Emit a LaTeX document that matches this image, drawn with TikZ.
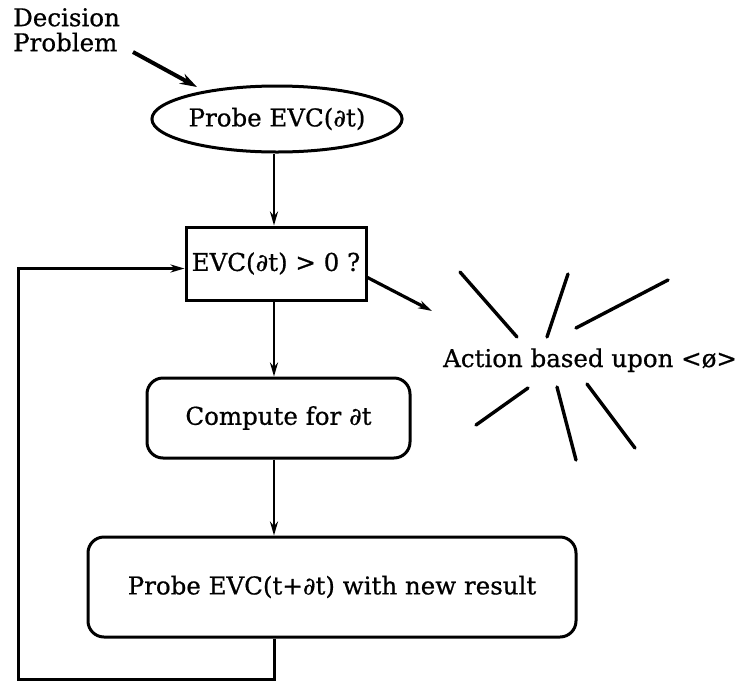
\documentclass[tikz,border=0pt]{standalone}
\usepackage{fontspec}
\setmainfont{DejaVu Serif}[FakeBold=0.7]
\usetikzlibrary{shapes.geometric,arrows.meta}
\begin{document}
\begin{tikzpicture}[x=1pt,y=-1pt,
  lbl/.style={font=\fontsize{24.5}{25}\selectfont},
  oval/.style={ellipse,draw,line width=3pt,minimum width=225pt,minimum height=66pt,inner sep=0pt,lbl},
  testbox/.style={rectangle,draw,line width=3pt,minimum width=180pt,minimum height=73pt,inner sep=0pt,lbl},
  stepbox/.style={rectangle,rounded corners=16pt,draw,line width=3pt,inner sep=0pt,lbl},
  flow/.style={line width=2.4pt,-{Stealth[length=14pt,width=8pt]}},
  ray/.style={line width=3.4pt,line cap=round}
]
\useasboundingbox (0,0) rectangle (740,681);
\coordinate (spine) at (274,0);

\node[lbl,anchor=north west,align=left,inner sep=0pt] (dp) at (13,8) {Decision\\Problem};
\node[oval] (e) at (277,119) {Probe EVC(∂t)};
\node[testbox] (d) at (276,263.5) {EVC(∂t) > 0 ?};
\node[stepbox,minimum width=263pt,minimum height=80pt] (c) at (278.5,418) {Compute for ∂t};
\node[stepbox,minimum width=488pt,minimum height=100pt] (p) at (332,587) {Probe EVC(t+∂t) with new result};
\node[lbl,anchor=base west,inner sep=0pt] (act) at (443,367) {Action based upon <ø>};

% entry arrow
\coordinate (hit) at (197,87);
\draw[line width=4pt,-{Stealth[length=17pt,width=11pt]}] (133,52) -- (hit);

% main chain
\draw[flow] (e.south -| spine) -- (d.north -| spine);
\draw[flow] (d.south -| spine) -- (c.north -| spine);
\draw[flow] (c.south -| spine) -- (p.north -| spine);

% feedback loop
\coordinate (lb) at (18,679);
\draw[line width=3pt,-{Stealth[length=14pt,width=8pt]}] (p.south -| spine) |- (lb) |- ([yshift=-5pt]d.west);

% test outcome arrow
\coordinate (out) at (432,311);
\draw[line width=3.2pt,-{Stealth[length=14pt,width=8pt]}] ([yshift=-14pt]d.east) -- (out);

% burst around the action label
\draw[ray] (460,272) -- (517,337);
\draw[ray] (568,274) -- (547,337);
\draw[ray] (668,280) -- (576,328);
\draw[ray] (528,388) -- (476,425);
\draw[ray] (557,387) -- (576,460);
\draw[ray] (587,384) -- (635,448);
\end{tikzpicture}
\end{document}
